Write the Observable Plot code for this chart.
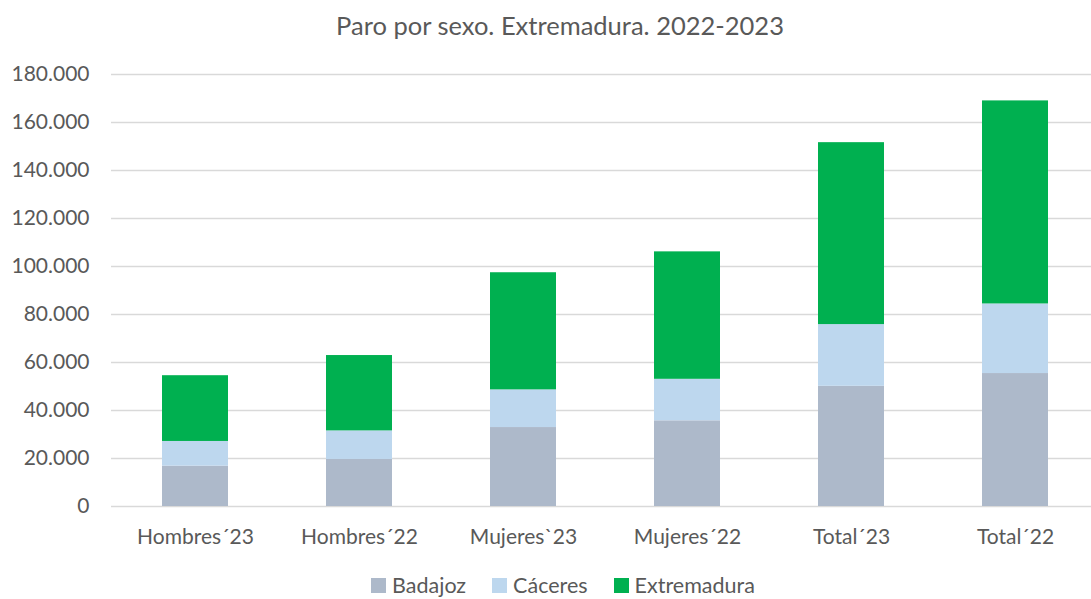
<!DOCTYPE html>
<html>
<head>
<meta charset="utf-8">
<script src="https://cdn.jsdelivr.net/npm/d3@7"></script>
<script src="https://cdn.jsdelivr.net/npm/@observablehq/plot@0.6"></script>
<style>
  body { margin: 0; background: #fff; font-family: Lato, "Open Sans", sans-serif; color: #595959; overflow: hidden; }
  #title { height: 50px; line-height: 50px; font-size: 25.5px; text-align: center; width: 1120px; }
  #legend { display: flex; justify-content: center; gap: 26px; width: 1126px; font-size: 21.5px; padding-top: 12px; }
  .item { display: flex; align-items: center; gap: 6px; }
  .sw { width: 15px; height: 15px; display: inline-block; }
</style>
</head>
<body>
<div id="title">Paro por sexo. Extremadura. 2022-2023</div>
<div id="chart"></div>
<div id="legend"></div>
<script>
const categories = ["Hombres´23", "Hombres´22", "Mujeres`23", "Mujeres´22", "Total´23", "Total´22"];
const series = ["Badajoz", "Cáceres", "Extremadura"];
const colors = ["#adb9ca", "#bdd7ee", "#00b050"];
const badajoz = [16800, 19600, 32900, 35700, 50100, 55400];
const caceres = [10300, 11900, 15700, 17300, 25700, 29000];
const extremadura = [27400, 31400, 48800, 53100, 75800, 84600];
const yTicks = [0, 20000, 40000, 60000, 80000, 100000, 120000, 140000, 160000, 180000];

const values = [badajoz, caceres, extremadura];
const data = [];
series.forEach((s, si) => categories.forEach((c, ci) => data.push({cat: c, serie: s, value: values[si][ci]})));

const fmt = d3.formatLocale({decimal: ",", thousands: ".", grouping: [3], currency: ["", "€"]}).format(",d");

const plot = Plot.plot({
  width: 1091,
  height: 510,
  marginLeft: 111,
  marginRight: -7,
  marginTop: 24,
  marginBottom: 54,
  style: {fontFamily: "Lato, 'Open Sans', sans-serif", fontSize: "21px", color: "#595959", background: "#fff"},
  x: {domain: categories, paddingInner: 0.6, paddingOuter: 0.3, label: null, tickSize: 0, tickPadding: 23},
  y: {domain: [0, 180000], ticks: yTicks, tickFormat: fmt, label: null, tickSize: 0, tickPadding: 22},
  color: {domain: series, range: colors},
  marks: [
    Plot.gridY(yTicks, {stroke: "#d9d9d9", strokeOpacity: 1, strokeWidth: 1.4}),
    Plot.barY(data, {x: "cat", y: "value", fill: "serie"})
  ]
});
document.getElementById("chart").appendChild(plot);

const legend = document.getElementById("legend");
series.forEach((s, i) => {
  const it = document.createElement("span");
  it.className = "item";
  it.innerHTML = `<span class="sw" style="background:${colors[i]}"></span>${s}`;
  legend.appendChild(it);
});
</script>
</body>
</html>
